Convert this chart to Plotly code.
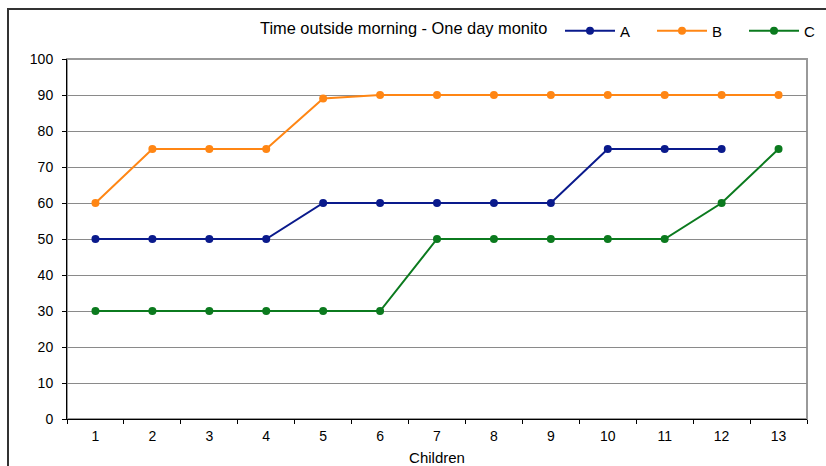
import plotly.graph_objects as go

children = [str(i) for i in range(1, 14)]
series_a = [50, 50, 50, 50, 60, 60, 60, 60, 60, 75, 75, 75, None]
series_b = [60, 75, 75, 75, 89, 90, 90, 90, 90, 90, 90, 90, 90]
series_c = [30, 30, 30, 30, 30, 30, 50, 50, 50, 50, 50, 60, 75]
names = ["A", "B", "C"]
colors = ["#0A1A8C", "#FF8614", "#0B7A1E"]
title_text = "Time outside morning - One day monito"

L, R, T, B = 67, 19, 59, 47
W, H = 826, 466
pw, ph = W - L - R, H - T - B

def px_x(x):
    return (x - L) / pw

def px_y(y):
    return (H - B - y) / ph

fig = go.Figure()
for name, vals, col in zip(names, [series_a, series_b, series_c], colors):
    fig.add_trace(go.Scatter(
        x=children, y=vals, name=name, mode="lines+markers",
        line=dict(color=col, width=2),
        marker=dict(color=col, size=8, symbol="circle"),
        connectgaps=False,
    ))

family = "Liberation Sans, Arial, sans-serif"
tick_font = dict(family=family, size=14, color="#000")
label_font = dict(family=family, size=15, color="#000")
title_font = dict(family=family, size=16.4, color="#000")

fig.update_layout(
    width=W, height=H,
    margin=dict(l=L, r=R, t=T, b=B, autoexpand=False),
    paper_bgcolor="white", plot_bgcolor="white",
    font=tick_font,
    showlegend=True,
    legend=dict(
        orientation="h", x=px_x(560), y=px_y(31), xanchor="left", yanchor="middle",
        bgcolor="rgba(0,0,0,0)", font=label_font, itemwidth=50, entrywidth=27,
        itemclick=False,
    ),
    xaxis=dict(
        type="category", range=[-0.5, len(children) - 0.5], autorange=False,
        showgrid=False, showline=True, linecolor="#000", linewidth=1,
        ticks="outside", ticklen=4, tickcolor="#000", tickson="boundaries",
        tickfont=tick_font, ticklabelstandoff=4,
        title=dict(text="Children", font=label_font, standoff=10),
        zeroline=False,
    ),
    yaxis=dict(
        range=[0, 100], dtick=10, tick0=0, showgrid=True, gridcolor="#8a8a8a", gridwidth=1,
        showline=True, linecolor="#000", linewidth=1, ticks="outside", ticklen=4,
        tickcolor="#000", tickfont=tick_font, ticklabelstandoff=6, zeroline=False,
    ),
    shapes=[
        dict(type="rect", xref="paper", yref="paper", x0=0, x1=1, y0=0, y1=1,
             line=dict(color="#999", width=2), layer="below"),
        dict(type="rect", xref="paper", yref="paper",
             x0=px_x(8), x1=px_x(900), y0=px_y(9), y1=px_y(520),
             line=dict(color="#333", width=2), layer="below"),
    ],
    annotations=[
        dict(text=title_text, xref="paper", yref="paper", x=px_x(258), y=px_y(28),
             xanchor="left", yanchor="middle", showarrow=False, font=title_font),
    ],
)

fig.write_html("out.html")
